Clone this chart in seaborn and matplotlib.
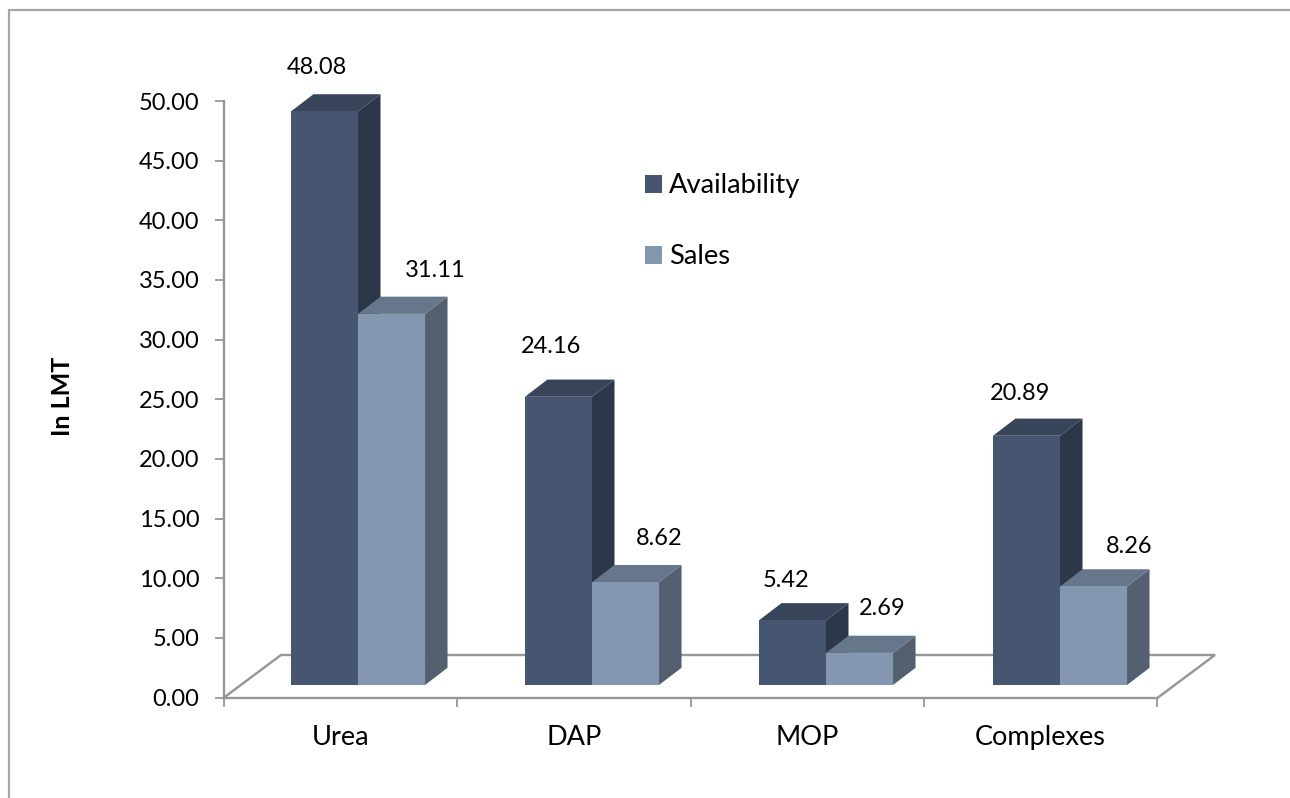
import matplotlib
matplotlib.use("Agg")
import matplotlib.pyplot as plt
import pandas as pd
import seaborn as sns
from matplotlib.lines import Line2D
from matplotlib.patches import Polygon, Rectangle
from matplotlib.transforms import IdentityTransform

categories = ["Urea", "DAP", "MOP", "Complexes"]
availability = [48.08, 24.16, 5.42, 20.89]
sales = [31.11, 8.62, 2.69, 8.26]
series_names = ["Availability", "Sales"]
y_ticks = [0, 5, 10, 15, 20, 25, 30, 35, 40, 45, 50]

W, H = 1290, 798
sns.set_theme(style="white")
plt.rcParams["font.family"] = ["Lato", "DejaVu Sans"]
FS = 17
GREY = "#969696"
FRONT = {"Availability": "#465671", "Sales": "#8497B0"}
SIDE = {"Availability": "#2C3849", "Sales": "#546070"}
TOP = {"Availability": "#37445A", "Sales": "#66778C"}
DX, DY = 22.5, 17.2

fig = plt.figure(figsize=(W / 100, H / 100), dpi=100, facecolor="white")


def rect(x0, x1, ytop, ybottom):
    return [x0 / W, 1 - ybottom / H, (x1 - x0) / W, (ybottom - ytop) / H]


def fig_line(xs, ys, lw=2.2, color=GREY):
    fig.add_artist(Line2D([x / W for x in xs], [1 - y / H for y in ys], lw=lw * 0.72,
                          color=color, zorder=-1, solid_capstyle="projecting",
                          solid_joinstyle="miter"))


# Chart-area border (top and left edges only, as in the reference)
fig_line([8.5, 8.5, W], [H, 10, 10], lw=2.2, color="#A6A6A6")
# Back edges of the 3D floor
fig_line([224, 281, 1215, 1158], [697.5, 655, 655, 697.5], lw=2.4)

# Axis frame carrying the ticks and labels
ax = fig.add_axes(rect(224, 1157, 101, 697.5), facecolor="none")
ax.set_xlim(0, 4)
ax.set_ylim(0, 50)
ax.set_yticks(y_ticks)
ax.set_yticklabels([f"{v:.2f}" for v in y_ticks], fontsize=FS, color="black")
ax.set_xticks(range(5))
ax.set_xticklabels([])
ax.set_xticks([i + 0.5 for i in range(4)], minor=True)
ax.set_xticklabels(categories, minor=True, fontsize=19.5, color="black")
ax.tick_params(axis="both", which="major", length=6.2, width=1.3, color=GREY, left=True, bottom=True)
ax.tick_params(axis="y", which="major", pad=11.5)
ax.tick_params(axis="x", which="minor", length=0, pad=20)
for s in ("top", "right"):
    ax.spines[s].set_visible(False)
for s in ("left", "bottom"):
    ax.spines[s].set_color(GREY)
    ax.spines[s].set_linewidth(1.7)
ax.set_ylabel("In LMT", fontsize=18, fontweight="bold", color="black")
ax.yaxis.set_label_coords((74 - 224) / 933, 0.505)

# Bars: same scale as the frame, displaced to sit on the floor
ax2 = fig.add_axes(rect(241, 1177, 88.5, 685), facecolor="none")
df = pd.DataFrame({
    "category": categories * 2,
    "value": availability + sales,
    "series": [series_names[0]] * 4 + [series_names[1]] * 4,
})
sns.barplot(data=df, x="category", y="value", hue="series", hue_order=series_names,
            palette=FRONT, saturation=1, width=0.573, gap=0, legend=False, ax=ax2)
ax2.set_xlim(-0.5, 3.5)
ax2.set_ylim(0, 50)
ax2.axis("off")
fig.canvas.draw()

# (dx, dy) in pixels from the top centre of each bar's front face to its label
label_offsets = {
    "Availability": [(-8, 44), (-7, 50), (-6, 40), (-6, 42)],
    "Sales": [(44, 43), (34, 44), (23, 44), (36, 40)],
}

for container, name in zip(ax2.containers, series_names):
    base_z = 2 if name == "Availability" else 2.5
    for bar, (ox, oy) in zip(container, label_offsets[name]):
        bar.set_zorder(3)
        bar.set_linewidth(0)
        (x0, y0), (x1, y1) = ax2.transData.transform(
            [(bar.get_x(), 0), (bar.get_x() + bar.get_width(), bar.get_height())])
        side = Polygon([(x1, y0), (x1 + DX, y0 + DY), (x1 + DX, y1 + DY), (x1, y1)],
                       closed=True, fc=SIDE[name], ec="none", transform=IdentityTransform(),
                       zorder=base_z, clip_on=False)
        top = Polygon([(x0, y1), (x1, y1), (x1 + DX, y1 + DY), (x0 + DX, y1 + DY)],
                      closed=True, fc=TOP[name], ec="none", transform=IdentityTransform(),
                      zorder=base_z, clip_on=False)
        ax2.add_patch(side)
        ax2.add_patch(top)
        ax2.annotate(f"{bar.get_height():.2f}",
                     xy=(bar.get_x() + bar.get_width() / 2, bar.get_height()),
                     xytext=(ox, oy), textcoords="offset pixels", ha="center", va="center",
                     fontsize=FS, color="black", annotation_clip=False, zorder=5)

# Legend
handles = [Rectangle((0, 0), 1, 1, fc=FRONT[n], ec="none") for n in series_names]
leg = fig.legend(handles, series_names, loc="upper left",
                 bbox_to_anchor=(645 / W, 1 - 173.5 / H), frameon=False, fontsize=19.7,
                 borderpad=0, borderaxespad=0, handlelength=0.62, handleheight=0.62,
                 handletextpad=0.26, labelspacing=1.68, labelcolor="black")

fig.savefig("out.png", dpi=100, facecolor="white")
